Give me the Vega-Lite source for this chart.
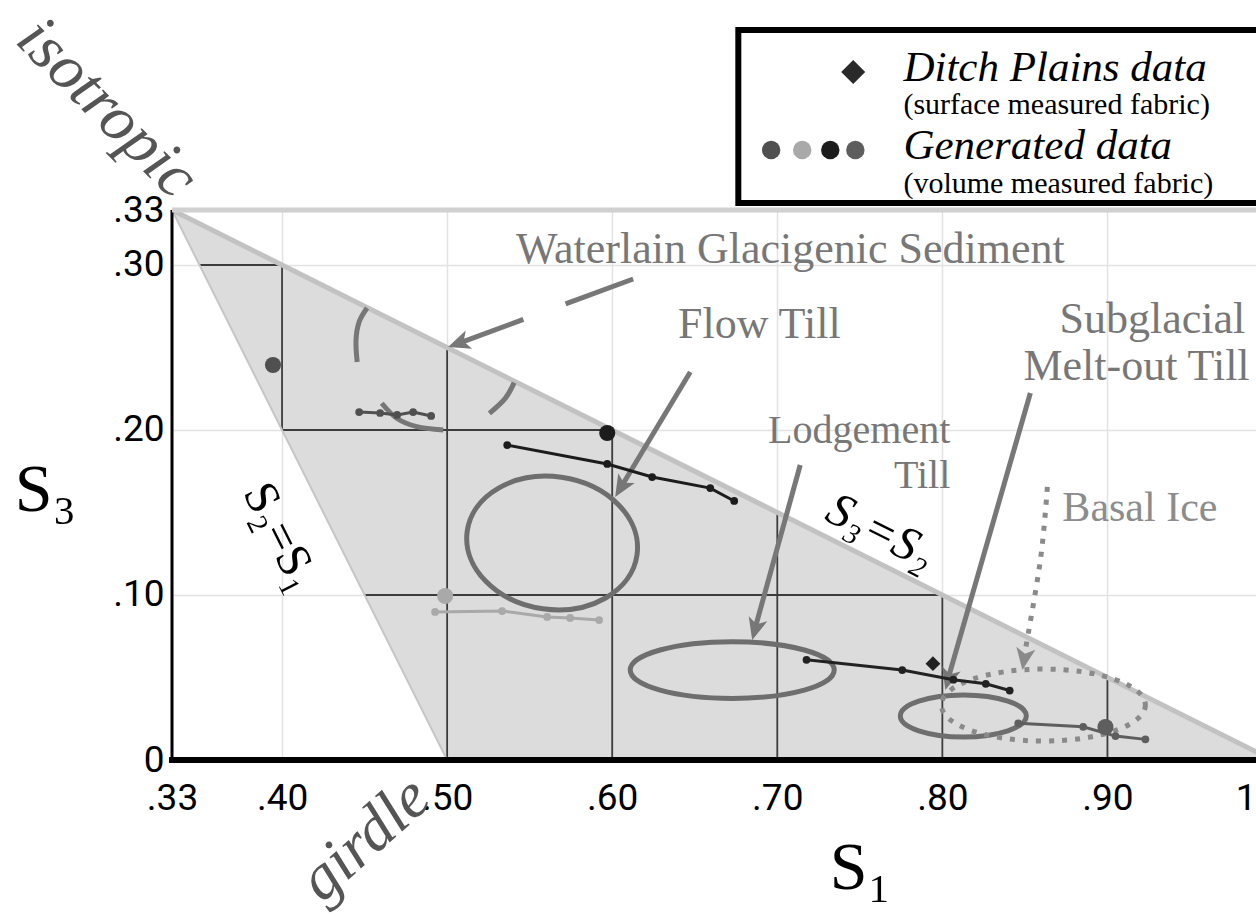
{
  "$schema": "https://vega.github.io/schema/vega-lite/v6.json",
  "width": 1084,
  "height": 550,
  "autosize": {"type": "none"},
  "padding": {"left": 172, "top": 210, "right": 0, "bottom": 156},
  "background": "white",
  "config": {"view": {"stroke": null}},
  "encoding": {
    "x": {
      "field": "s1", "type": "quantitative",
      "scale": {"domain": [0.33333, 0.99], "nice": false, "zero": false},
      "axis": {
        "values": [0.33333, 0.4, 0.5, 0.6, 0.7, 0.8, 0.9, 0.99],
        "labelExpr": "datum.value > 0.95 ? '1' : datum.value < 0.34 ? '.33' : replace(format(datum.value, '.2f'), '0.', '.')",
        "labelFont": "Roboto", "labelFontSize": 37, "labelColor": "#000000",
        "labelPadding": 20, "labelFlush": false, "labelOverlap": false,
        "labelAlign": {"condition": {"test": "datum.value > 0.95", "value": "right"}, "value": "center"},
        "ticks": false, "domain": false,
        "grid": true, "gridColor": "#e2e2e2", "gridWidth": 1.5,
        "gridOpacity": {"condition": {"test": "datum.value > 0.95", "value": 0}, "value": 1},
        "title": "S₁", "titleFont": "Liberation Serif", "titleFontSize": 68, "titleFontWeight": "normal",
        "titleColor": "#000000", "titleX": 688, "titleY": 108, "titleAlign": "center", "titleBaseline": "middle"
      }
    },
    "y": {
      "field": "s3", "type": "quantitative",
      "scale": {"domain": [0, 0.33333], "nice": false, "zero": false},
      "axis": {
        "values": [0, 0.1, 0.2, 0.3, 0.33333],
        "labelExpr": "datum.value == 0 ? '0' : datum.value > 0.32 ? '.33' : replace(format(datum.value, '.2f'), '0.', '.')",
        "labelFont": "Roboto", "labelFontSize": 37, "labelColor": "#000000",
        "labelPadding": 8, "labelFlush": false, "labelOverlap": false,
        "ticks": false, "domain": false,
        "grid": true, "gridColor": "#e2e2e2", "gridWidth": 1.5,
        "title": "S₃", "titleFont": "Liberation Serif", "titleFontSize": 68, "titleFontWeight": "normal",
        "titleColor": "#000000", "titleAngle": 0, "titleX": -127, "titleY": 280, "titleAlign": "center", "titleBaseline": "middle"
      }
    }
  },
  "layer": [
    {
      "data": {"values": [
        {"s1": 0.33333, "s3": 0.33333, "lo": 0.33333},
        {"s1": 0.5, "s3": 0.25, "lo": 0},
        {"s1": 1, "s3": 0, "lo": 0}
      ]},
      "mark": {"type": "area", "color": "#dcdcdc", "opacity": 1, "clip": true},
      "encoding": {"y2": {"field": "lo"}}
    },
    {
      "data": {"values": [
        {"s1": 0.4, "s3": 0.2, "hi": 0.3},
        {"s1": 0.5, "s3": 0, "hi": 0.25},
        {"s1": 0.6, "s3": 0, "hi": 0.2},
        {"s1": 0.7, "s3": 0, "hi": 0.15},
        {"s1": 0.8, "s3": 0, "hi": 0.1},
        {"s1": 0.9, "s3": 0, "hi": 0.05}
      ]},
      "mark": {"type": "rule", "color": "#3c3c3c", "strokeWidth": 1.8},
      "encoding": {"y2": {"field": "hi"}}
    },
    {
      "data": {"values": [
        {"s3": 0.3, "s1": 0.35, "s1b": 0.4},
        {"s3": 0.2, "s1": 0.4, "s1b": 0.6},
        {"s3": 0.1, "s1": 0.45, "s1b": 0.8}
      ]},
      "mark": {"type": "rule", "color": "#3c3c3c", "strokeWidth": 1.8},
      "encoding": {"x2": {"field": "s1b"}}
    },
    {
      "data": {"values": [{"s1": 0.33333, "s3": 0.33333}, {"s1": 0.5, "s3": 0}]},
      "mark": {"type": "line", "color": "#c6c6c6", "strokeWidth": 2},
      "encoding": {}
    },
    {
      "data": {"values": [{"s1": 0.33333, "s3": 0.33333}, {"s1": 1, "s3": 0}]},
      "mark": {"type": "line", "color": "#c2c2c2", "strokeWidth": 5, "clip": true},
      "encoding": {}
    },
    {
      "data": {"values": [{"s1": 0.33333, "s3": 0, "hi": 0.33333}]},
      "mark": {"type": "rule", "color": "#000000", "strokeWidth": 3},
      "encoding": {"y2": {"field": "hi"}}
    },
    {
      "data": {"values": [{"s1": 0.33333, "s3": 0.33333, "s1b": 1}]},
      "mark": {"type": "rule", "color": "#d0d0d0", "strokeWidth": 5},
      "encoding": {"x2": {"field": "s1b"}}
    },
    {
      "data": {"values": [{"s1": 0.3315, "s3": 0, "s1b": 1}]},
      "mark": {"type": "rule", "color": "#000000", "strokeWidth": 6},
      "encoding": {"x2": {"field": "s1b"}}
    },
    {
      "data": {"values": [
        {"arc": "left", "ord": 1, "s1": 0.4515, "s3": 0.2739},
        {"arc": "left", "ord": 2, "s1": 0.4467, "s3": 0.2655},
        {"arc": "left", "ord": 3, "s1": 0.4448, "s3": 0.2545},
        {"arc": "left", "ord": 4, "s1": 0.4455, "s3": 0.2412},
        {"arc": "bottom", "ord": 1, "s1": 0.4604, "s3": 0.2162},
        {"arc": "bottom", "ord": 2, "s1": 0.4695, "s3": 0.2071},
        {"arc": "bottom", "ord": 3, "s1": 0.4816, "s3": 0.2020},
        {"arc": "bottom", "ord": 4, "s1": 0.4977, "s3": 0.2000},
        {"arc": "right", "ord": 1, "s1": 0.5256, "s3": 0.2101},
        {"arc": "right", "ord": 2, "s1": 0.5352, "s3": 0.2192},
        {"arc": "right", "ord": 3, "s1": 0.5406, "s3": 0.2287}
      ]},
      "mark": {"type": "line", "color": "#777777", "strokeWidth": 5, "interpolate": "cardinal", "strokeCap": "butt"},
      "encoding": {"detail": {"field": "arc"}, "order": {"field": "ord", "type": "quantitative"}}
    },
    {
      "data": {"values": [{"s1": 0.6127, "s3": 0.2915}, {"s1": 0.5073, "s3": 0.2527}]},
      "mark": {"type": "line", "color": "#777777", "strokeWidth": 5, "strokeDash": [72, 45], "strokeCap": "butt"},
      "encoding": {"order": {"field": "s1", "type": "quantitative", "sort": "descending"}}
    },
    {
      "data": {"values": [
        {"arrow": "flow", "s1": 0.6473, "s3": 0.2352},
        {"arrow": "flow", "s1": 0.6054, "s3": 0.1655},
        {"arrow": "lodgement", "s1": 0.7139, "s3": 0.1788},
        {"arrow": "lodgement", "s1": 0.6866, "s3": 0.0800},
        {"arrow": "subglacial", "s1": 0.8533, "s3": 0.2224},
        {"arrow": "subglacial", "s1": 0.8036, "s3": 0.0497}
      ]},
      "mark": {"type": "line", "color": "#777777", "strokeWidth": 5},
      "encoding": {"detail": {"field": "arrow"}}
    },
    {
      "data": {"values": [
        {"ord": 1, "s1": 0.8636, "s3": 0.1655},
        {"ord": 2, "s1": 0.8594, "s3": 0.1212},
        {"ord": 3, "s1": 0.8497, "s3": 0.0636}
      ]},
      "mark": {"type": "line", "color": "#8a8a8a", "strokeWidth": 5, "strokeDash": [5, 8], "strokeCap": "butt", "interpolate": "cardinal"},
      "encoding": {"order": {"field": "ord", "type": "quantitative"}}
    },
    {
      "data": {"values": [{"s1": 0.5006, "s3": 0.2503}]},
      "mark": {"type": "point", "shape": "M0,0L0.7,1.6L0,1.2L-0.7,1.6Z", "filled": true, "size": 756, "angle": 250.6, "color": "#777777", "opacity": 1, "strokeWidth": 0}
    },
    {
      "data": {"values": [{"s1": 0.6018, "s3": 0.1594}]},
      "mark": {"type": "point", "shape": "M0,0L0.7,1.6L0,1.2L-0.7,1.6Z", "filled": true, "size": 756, "angle": 211, "color": "#777777", "opacity": 1, "strokeWidth": 0}
    },
    {
      "data": {"values": [{"s1": 0.6848, "s3": 0.0727}]},
      "mark": {"type": "point", "shape": "M0,0L0.7,1.6L0,1.2L-0.7,1.6Z", "filled": true, "size": 756, "angle": 195.3, "color": "#777777", "opacity": 1, "strokeWidth": 0}
    },
    {
      "data": {"values": [{"s1": 0.8018, "s3": 0.0424}]},
      "mark": {"type": "point", "shape": "M0,0L0.7,1.6L0,1.2L-0.7,1.6Z", "filled": true, "size": 756, "angle": 196, "color": "#777777", "opacity": 1, "strokeWidth": 0}
    },
    {
      "data": {"values": [{"s1": 0.8485, "s3": 0.0545}]},
      "mark": {"type": "point", "shape": "M0,0L0.7,1.6L0,1.2L-0.7,1.6Z", "filled": true, "size": 756, "angle": 189, "color": "#8a8a8a", "opacity": 1, "strokeWidth": 0}
    },
    {
      "data": {"values": [{"region": "Flow Till", "s1": 0.5636, "s3": 0.1315}]},
      "mark": {"type": "point", "shape": "M1,0C1,0.428 0.552,0.775 0,0.775C-0.552,0.775 -1,0.428 -1,0C-1,-0.428 -0.552,-0.775 0,-0.775C0.552,-0.775 1,-0.428 1,0Z", "filled": false, "size": 29400, "angle": 8, "color": "#6e6e6e", "strokeWidth": 5, "opacity": 1}
    },
    {
      "data": {"values": [{"region": "Lodgement Till", "s1": 0.6727, "s3": 0.0545}]},
      "mark": {"type": "point", "shape": "M1,0C1,0.154 0.552,0.278 0,0.278C-0.552,0.278 -1,0.154 -1,0C-1,-0.154 -0.552,-0.278 0,-0.278C0.552,-0.278 1,-0.154 1,0Z", "filled": false, "size": 41616, "color": "#6e6e6e", "strokeWidth": 5, "opacity": 1}
    },
    {
      "data": {"values": [{"region": "Subglacial Melt-out Till", "s1": 0.8127, "s3": 0.0267}]},
      "mark": {"type": "point", "shape": "M1,0C1,0.184 0.552,0.333 0,0.333C-0.552,0.333 -1,0.184 -1,0C-1,-0.184 -0.552,-0.333 0,-0.333C0.552,-0.333 1,-0.184 1,0Z", "filled": false, "size": 15876, "color": "#6e6e6e", "strokeWidth": 5, "opacity": 1}
    },
    {
      "data": {"values": [{"region": "Basal Ice", "s1": 0.8612, "s3": 0.0333}]},
      "mark": {"type": "point", "shape": "M1,0C1,0.195 0.552,0.353 0,0.353C-0.552,0.353 -1,0.195 -1,0C-1,-0.195 -0.552,-0.353 0,-0.353C0.552,-0.353 1,-0.195 1,0Z", "filled": false, "size": 41616, "color": "#8a8a8a", "strokeWidth": 5, "strokeDash": [5, 8], "opacity": 1}
    },
    {
      "data": {"name": "pts"},
      "transform": [{"filter": "datum.kind == 'line'"}],
      "mark": {"type": "line", "strokeWidth": 3},
      "encoding": {"color": {"field": "series", "type": "nominal", "scale": {"domain": ["A", "B", "C", "D", "E"], "range": ["#505050", "#1c1c1c", "#a9a9a9", "#222222", "#5e5e5e"]}, "legend": null}}
    },
    {
      "data": {"name": "pts"},
      "transform": [{"filter": "datum.kind == 'line'"}],
      "mark": {"type": "circle", "size": 60, "opacity": 1},
      "encoding": {"color": {"field": "series", "type": "nominal", "legend": null}}
    },
    {
      "data": {"name": "pts"},
      "transform": [{"filter": "datum.kind == 'big'"}],
      "mark": {"type": "circle", "size": 260, "opacity": 1},
      "encoding": {"color": {"field": "series", "type": "nominal", "legend": null}}
    },
    {
      "data": {"values": [{"s1": 0.7943, "s3": 0.0584}]},
      "mark": {"type": "point", "shape": "diamond", "filled": true, "size": 220, "color": "#222222", "opacity": 1}
    },
    {
      "data": {"values": [
        {"label": "Waterlain Glacigenic Sediment", "s1": 0.7079, "s3": 0.3091},
        {"label": "Flow Till", "s1": 0.6891, "s3": 0.2636},
        {"label": "Subglacial", "s1": 0.9272, "s3": 0.2667},
        {"label": "Melt-out Till", "s1": 0.9176, "s3": 0.2382}
      ]},
      "mark": {"type": "text", "font": "Liberation Serif", "fontSize": 44, "color": "#777777", "align": "center", "baseline": "middle"},
      "encoding": {"text": {"field": "label"}}
    },
    {
      "data": {"values": [
        {"label": "Lodgement", "s1": 0.8048, "s3": 0.1995},
        {"label": "Till", "s1": 0.8048, "s3": 0.1720}
      ]},
      "mark": {"type": "text", "font": "Liberation Serif", "fontSize": 40, "color": "#777777", "align": "right", "baseline": "middle"},
      "encoding": {"text": {"field": "label"}}
    },
    {
      "data": {"values": [{"label": "Basal Ice", "s1": 0.8727, "s3": 0.1527}]},
      "mark": {"type": "text", "font": "Liberation Serif", "fontSize": 42, "color": "#8c8c8c", "align": "left", "baseline": "middle"},
      "encoding": {"text": {"field": "label"}}
    },
    {
      "data": {"values": [{"label": "isotropic", "s1": 0.2940, "s3": 0.3950}]},
      "mark": {"type": "text", "font": "Liberation Serif", "fontStyle": "italic", "fontSize": 64, "color": "#555555", "align": "center", "baseline": "middle", "angle": 45},
      "encoding": {"text": {"field": "label"}}
    },
    {
      "data": {"values": [{"label": "girdle", "s1": 0.4503, "s3": -0.0480}]},
      "mark": {"type": "text", "font": "Liberation Serif", "fontStyle": "italic", "fontSize": 64, "color": "#555555", "align": "center", "baseline": "middle", "angle": 318},
      "encoding": {"text": {"field": "label"}}
    },
    {
      "data": {"values": [{"label": "S₂=S₁", "s1": 0.3990, "s3": 0.1350}]},
      "mark": {"type": "text", "font": "Liberation Serif", "fontSize": 48, "color": "#000000", "align": "center", "baseline": "middle", "angle": 63.4},
      "encoding": {"text": {"field": "label"}}
    },
    {
      "data": {"values": [{"label": "S₃=S₂", "s1": 0.7624, "s3": 0.1380}]},
      "mark": {"type": "text", "font": "Liberation Serif", "fontStyle": "italic", "fontSize": 48, "color": "#000000", "align": "center", "baseline": "middle", "angle": 26.6},
      "encoding": {"text": {"field": "label"}}
    },
    {
      "data": {"values": [{"s1": 0.6764, "s1b": 1.1, "s3": 0.4424, "s3b": 0.3376}]},
      "mark": {"type": "rect", "fill": "#ffffff", "stroke": "#000000", "strokeWidth": 6},
      "encoding": {"x2": {"field": "s1b"}, "y2": {"field": "s3b"}}
    },
    {
      "data": {"values": [{"s1": 0.7460, "s3": 0.4170}]},
      "mark": {"type": "point", "shape": "diamond", "filled": true, "size": 576, "color": "#2a2a2a", "opacity": 1}
    },
    {
      "data": {"values": [
        {"series": "A", "s1": 0.6963, "s3": 0.3697},
        {"series": "C", "s1": 0.7151, "s3": 0.3697},
        {"series": "B", "s1": 0.7321, "s3": 0.3697},
        {"series": "E", "s1": 0.7473, "s3": 0.3697}
      ]},
      "mark": {"type": "circle", "size": 340, "opacity": 1},
      "encoding": {"color": {"field": "series", "type": "nominal", "legend": null}}
    },
    {
      "data": {"values": [
        {"label": "Ditch Plains data", "s1": 0.7764, "s3": 0.4195},
        {"label": "Generated data", "s1": 0.7764, "s3": 0.3720}
      ]},
      "mark": {"type": "text", "font": "Liberation Serif", "fontStyle": "italic", "fontSize": 43, "color": "#000000", "align": "left", "baseline": "middle"},
      "encoding": {"text": {"field": "label"}}
    },
    {
      "data": {"values": [
        {"label": "(surface measured fabric)", "s1": 0.7764, "s3": 0.3970},
        {"label": "(volume measured fabric)", "s1": 0.7764, "s3": 0.3492}
      ]},
      "mark": {"type": "text", "font": "Liberation Serif", "fontSize": 30, "color": "#000000", "align": "left", "baseline": "middle"},
      "encoding": {"text": {"field": "label"}}
    }
  ],
  "datasets": {
    "pts": [
      {"series": "A", "kind": "line", "s1": 0.4467, "s3": 0.2109},
      {"series": "A", "kind": "line", "s1": 0.4594, "s3": 0.2103},
      {"series": "A", "kind": "line", "s1": 0.4697, "s3": 0.2091},
      {"series": "A", "kind": "line", "s1": 0.4794, "s3": 0.2109},
      {"series": "A", "kind": "line", "s1": 0.4903, "s3": 0.2085},
      {"series": "A", "kind": "big", "s1": 0.3945, "s3": 0.2394},
      {"series": "B", "kind": "line", "s1": 0.5364, "s3": 0.1909},
      {"series": "B", "kind": "line", "s1": 0.5970, "s3": 0.1794},
      {"series": "B", "kind": "line", "s1": 0.6242, "s3": 0.1715},
      {"series": "B", "kind": "line", "s1": 0.6594, "s3": 0.1648},
      {"series": "B", "kind": "line", "s1": 0.6739, "s3": 0.1570},
      {"series": "B", "kind": "big", "s1": 0.5970, "s3": 0.1982},
      {"series": "C", "kind": "line", "s1": 0.4927, "s3": 0.0897},
      {"series": "C", "kind": "line", "s1": 0.5333, "s3": 0.0903},
      {"series": "C", "kind": "line", "s1": 0.5606, "s3": 0.0867},
      {"series": "C", "kind": "line", "s1": 0.5745, "s3": 0.0861},
      {"series": "C", "kind": "line", "s1": 0.5921, "s3": 0.0848},
      {"series": "C", "kind": "big", "s1": 0.4988, "s3": 0.0994},
      {"series": "D", "kind": "line", "s1": 0.7177, "s3": 0.0607},
      {"series": "D", "kind": "line", "s1": 0.7757, "s3": 0.0545},
      {"series": "D", "kind": "line", "s1": 0.8067, "s3": 0.0487},
      {"series": "D", "kind": "line", "s1": 0.8263, "s3": 0.0462},
      {"series": "D", "kind": "line", "s1": 0.8408, "s3": 0.0421},
      {"series": "E", "kind": "line", "s1": 0.8460, "s3": 0.0222},
      {"series": "E", "kind": "line", "s1": 0.8853, "s3": 0.0201},
      {"series": "E", "kind": "line", "s1": 0.9049, "s3": 0.0145},
      {"series": "E", "kind": "line", "s1": 0.9230, "s3": 0.0125},
      {"series": "E", "kind": "big", "s1": 0.8988, "s3": 0.0200}
    ]
  }
}
